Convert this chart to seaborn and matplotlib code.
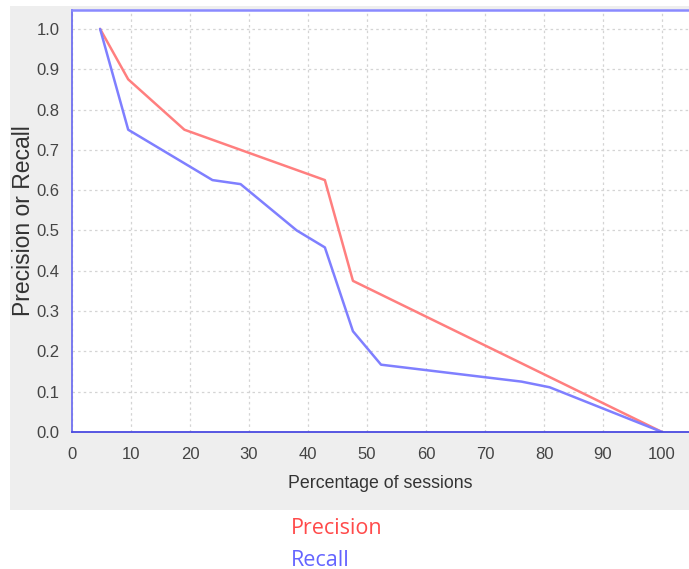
import matplotlib
matplotlib.use("Agg")
import matplotlib.pyplot as plt
import numpy as np
import pandas as pd
import seaborn as sns
from matplotlib.patches import Rectangle

# session steps are k/21 of all sessions
prec_k = [1, 2, 4, 9, 10, 21]
precision = [1.0, 0.875, 0.75, 0.625, 0.375, 0.0]
rec_k = [1, 2, 5, 6, 8, 9, 10, 11, 16, 17, 21]
recall = [1.0, 0.75, 0.625, 0.615, 0.5, 0.458, 0.25, 0.167, 0.125, 0.111, 0.0]

x_ticks = list(range(0, 101, 10))
y_ticks = [round(v * 0.1, 1) for v in range(11)]

df_p = pd.DataFrame({"pct": np.array(prec_k) * 100 / 21, "val": precision})
df_r = pd.DataFrame({"pct": np.array(rec_k) * 100 / 21, "val": recall})

sns.set_style("white")
W, H = 689, 569
fig = plt.figure(figsize=(W / 100, H / 100), dpi=100)

# light gray chart panel, kept behind the axes
fig.patches.append(Rectangle((10 / W, (H - 510) / H), (W - 10) / W, (510 - 6) / H,
                             transform=fig.transFigure, facecolor="#eeeeee",
                             edgecolor="none", zorder=-10))

ax = fig.add_axes([72 / W, (H - 432) / H, (W - 72) / W, (432 - 10) / H])
ax.set_facecolor("white")

sns.lineplot(data=df_p, x="pct", y="val", ax=ax, color="#ff7f7f", lw=1.8,
             estimator=None, sort=False)
sns.lineplot(data=df_r, x="pct", y="val", ax=ax, color="#7f7fff", lw=1.8,
             estimator=None, sort=False)

ax.set_xlim(0, (W - 72) / 5.9)
ax.set_ylim(0, 1.047)
ax.set_xticks(x_ticks)
ax.set_yticks(y_ticks)
ax.set_xticklabels([str(t) for t in x_ticks])
ax.set_yticklabels([f"{t:.1f}" for t in y_ticks])

ax.grid(True, color="#d4d4d4", linestyle=(0, (2, 2.5)), lw=0.9)
ax.set_axisbelow(True)

fam = ["Liberation Sans", "DejaVu Sans"]
ax.tick_params(axis="both", length=4, width=0.8, color="#999999",
               labelcolor="#444444", labelsize=12)
ax.tick_params(axis="x", pad=7)
ax.tick_params(axis="y", pad=5)
for lab in ax.get_xticklabels() + ax.get_yticklabels():
    lab.set_family(fam)

ax.set_xlabel("Percentage of sessions", fontsize=12.8, color="#333333", family=fam)
ax.set_ylabel("Precision or Recall", fontsize=16.5, color="#333333", family=fam)
ax.xaxis.set_label_coords(0.5, -0.123, transform=ax.transAxes)
ax.yaxis.set_label_coords(-0.0794, 0.50, transform=ax.transAxes)
ax.xaxis.label.set_va("center")
ax.yaxis.label.set_va("center")

for side in ["left", "top", "bottom"]:
    ax.spines[side].set_visible(True)
ax.spines["right"].set_visible(False)
ax.spines["left"].set_color("#7070f0")
ax.spines["top"].set_color("#8a8aff")
ax.spines["bottom"].set_color("#4a4ae0")
ax.spines["left"].set_linewidth(1.3)
ax.spines["top"].set_linewidth(1.8)
ax.spines["bottom"].set_linewidth(1.3)

# legend entries below the panel
fig.text(291 / W, 1 - 529 / H, "Precision", color="#ff4a4a", fontsize=15.5,
         family=["Open Sans", "DejaVu Sans"], va="center", ha="left")
fig.text(291 / W, 1 - 560 / H, "Recall", color="#6464ff", fontsize=15.5,
         family=["Open Sans", "DejaVu Sans"], va="center", ha="left")

fig.savefig("out.png", dpi=100)
